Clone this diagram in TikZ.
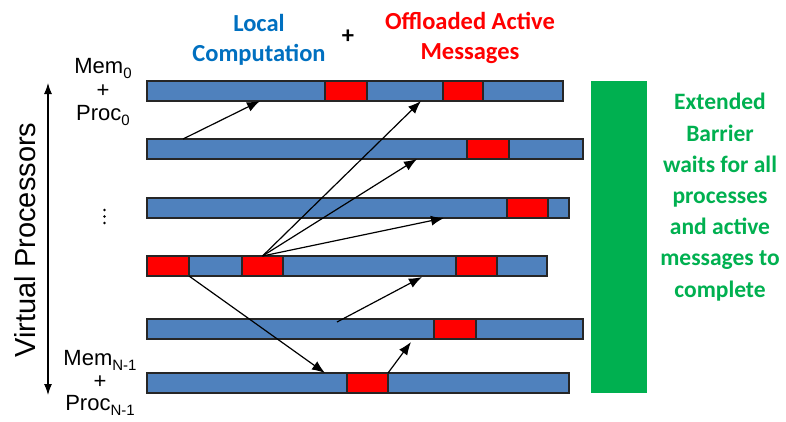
\documentclass[tikz,border=0pt]{standalone}
\usepackage{fontspec}
\setmainfont{Liberation Sans}
\newfontfamily\calb{Carlito}[BoldFont=* Bold]
\usetikzlibrary{arrows.meta}
\definecolor{barblue}{HTML}{4F81BD}
\definecolor{msgred}{HTML}{FF0000}
\definecolor{txtblue}{HTML}{0070C0}
\definecolor{txtgreen}{HTML}{00B050}
\newcommand{\sbs}[1]{\raisebox{-0.4ex}{\fontsize{15}{15}\selectfont #1}}
\tikzset{
  bar/.style={draw=black!85, fill=barblue, line width=1.2pt, inner sep=0pt, outer sep=0pt,
    minimum height=20pt, anchor=north west},
  msg/.style={draw=black!85, fill=msgred, line width=1.2pt, inner sep=0pt, outer sep=0pt,
    minimum height=20pt, anchor=north west},
  send/.style={line width=1.2pt, -{Latex[length=13pt,width=10pt]}},
  head/.style={font=\calb\bfseries\fontsize{24.5}{30}\selectfont, align=center},
  proc/.style={font=\fontsize{22}{23.5}\selectfont, align=center},
}
\begin{document}
\begin{tikzpicture}[x=1pt,y=-1pt]
\useasboundingbox (0,0) rectangle (786,421);

% column headings
\node[head, text=txtblue] (lc) at (259,40) {Local\\Computation};
\node[head] (plus) at (348,37) {+};
\node[head, text=msgred] (oam) at (470,38) {Offloaded Active\\Messages};

% processor timelines
\node[bar, minimum width=416pt] (bar1) at (147,81) {};
\node[bar, minimum width=436pt] (bar2) at (147,139) {};
\node[bar, minimum width=422pt] (bar3) at (147,198) {};
\node[bar, minimum width=400pt] (bar4) at (147,256) {};
\node[bar, minimum width=436pt] (bar5) at (147,319) {};
\node[bar, minimum width=422pt] (bar6) at (147,373) {};

% active messages
\node[msg, minimum width=42pt] (m1a) at (325,81) {};
\node[msg, minimum width=40pt] (m1b) at (443,81) {};
\node[msg, minimum width=42pt] (m2) at (467,139) {};
\node[msg, minimum width=41pt] (m3) at (507,198) {};
\node[msg, minimum width=42pt] (m4a) at (147,256) {};
\node[msg, minimum width=41pt] (m4b) at (242,256) {};
\node[msg, minimum width=41pt] (m4c) at (456,256) {};
\node[msg, minimum width=42pt] (m5) at (434,319) {};
\node[msg, minimum width=41pt] (m6) at (347,373) {};

% barrier
\node[fill=txtgreen, minimum width=56pt, minimum height=312pt, inner sep=0pt, anchor=north west] (barrier) at (591,81) {};
\node[head, text=txtgreen, font=\calb\bfseries\fontsize{23.5}{31.2}\selectfont] (btxt) at (720,197)
  {Extended\\Barrier\\waits for all\\processes\\and active\\messages to\\complete};

% processor labels
\node[proc] (p0) at (103,92) {Mem\sbs{0}\\+\\Proc\sbs{0}};
\node[proc, font=\fontsize{22}{22.5}\selectfont] (pn) at (100,383) {Mem\sbs{N-1}\\+\\Proc\sbs{N-1}};
\foreach \yy in {210,216.5,223} \fill (104.5,\yy) circle (1.3pt);

% processor axis
\coordinate (axtop) at (48,83);
\coordinate (axbot) at (48,395);
\draw[line width=1.1pt, {Latex[length=11pt,width=8pt]}-{Latex[length=11pt,width=8pt]}] (axtop) -- (axbot);
\node[rotate=90, font=\fontsize{29}{29}\selectfont] (vp) at (25,240) {Virtual Processors};

% message sends
\coordinate (s1) at (183,139);   \coordinate (t1) at (260,101);
\coordinate (t2) at (421,101);
\coordinate (t3) at (417,159);
\coordinate (t4) at (444,218);
\coordinate (t5) at (325,373);
\coordinate (s6) at (337,322);   \coordinate (t6) at (422,277);
\coordinate (t7) at (411,342);
\draw[send] (s1) -- (t1);
\draw[send] (m4b.north) -- (t2);
\draw[send] (m4b.north) -- (t3);
\draw[send] (m4b.north) -- (t4);
\draw[send] (m4a.south east) -- (t5);
\draw[send] (s6) -- (t6);
\draw[send] (m6.north east) -- (t7);
\end{tikzpicture}
\end{document}
